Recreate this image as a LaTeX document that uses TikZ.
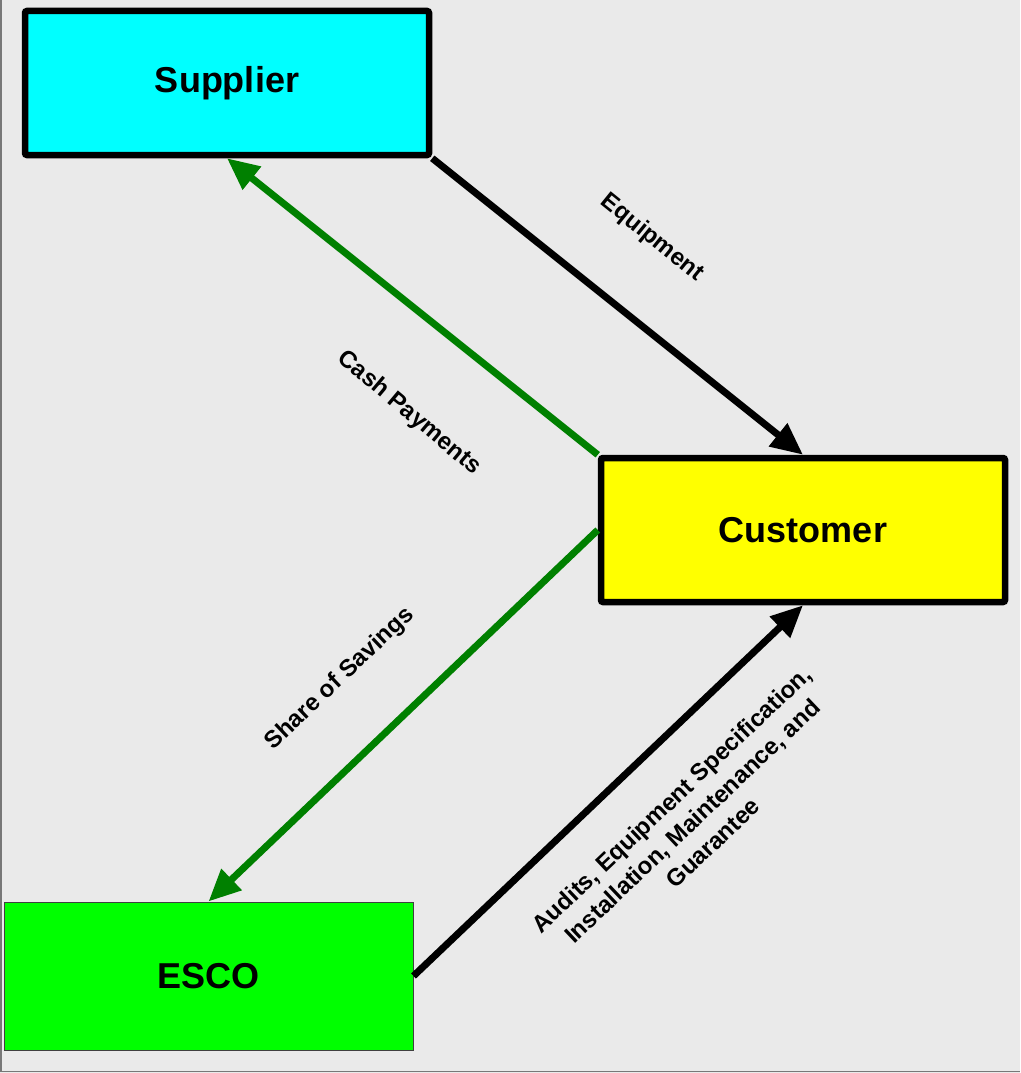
\documentclass[tikz,border=0pt]{standalone}
\usepackage{fontspec}
\setmainfont{Liberation Sans}
\usetikzlibrary{arrows.meta}
\definecolor{paper}{RGB}{234,234,234}
\definecolor{frameline}{RGB}{120,120,120}
\definecolor{flowgreen}{RGB}{0,128,0}
\definecolor{supcyan}{RGB}{0,255,255}
\definecolor{cusyellow}{RGB}{255,255,0}
\definecolor{escogreen}{RGB}{0,255,0}
\begin{document}
\begin{tikzpicture}[x=1pt,y=-1pt,
  party/.style={rectangle,draw=black,line width=6.5pt,rounded corners=2pt,
    minimum width=404pt,minimum height=144pt,inner sep=0pt,
    font=\fontsize{36}{40}\selectfont\bfseries},
  flatparty/.style={rectangle,draw=black!75,line width=1pt,
    minimum width=409pt,minimum height=148pt,inner sep=0pt,
    font=\fontsize{36}{40}\selectfont\bfseries},
  flow/.style={line width=7pt,-{Triangle[length=32pt,width=28pt]}},
  money/.style={flow,draw=flowgreen,color=flowgreen},
  goods/.style={flow,draw=black},
  tag/.style={font=\fontsize{24}{30}\selectfont\bfseries,align=center,inner sep=0pt}]

% sheet and its frame
\fill[paper] (0,0) rectangle (1020,1073);
\useasboundingbox (0,0) rectangle (1020,1073);
\draw[frameline,line width=1.5pt] (1,0) -- (1,1071.5) -- (1020,1071.5);

% parties
\node[party,fill=supcyan]    (sup)  at (227,83)    {Supplier};
\node[party,fill=cusyellow]  (cus)  at (803,530)   {Customer};
\node[flatparty,fill=escogreen] (esco) at (208.5,976) {ESCO};

% flows
\draw[goods] (sup.south east) -- (cus.north);
\draw[money] (cus.north west) -- (sup.south);
\draw[money] (cus.west) -- (esco.north);
\draw[goods] (esco.east) -- (cus.south);

% flow labels
\node[tag,rotate=-39]   (lequip) at (652,238) {Equipment};
\node[tag,rotate=-40]   (lcash)  at (409,413) {Cash Payments};
\node[tag,rotate=43.5]  (lshare) at (340,679) {Share of Savings};
\node[tag,rotate=43.5]  (laudit) at (692,821)
  {Audits, Equipment Specification,\\Installation, Maintenance, and\\Guarantee};
\end{tikzpicture}
\end{document}
